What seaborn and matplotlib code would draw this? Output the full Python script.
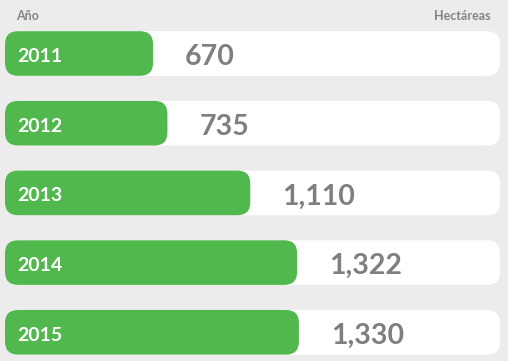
import matplotlib
matplotlib.use('Agg')
import matplotlib.pyplot as plt
import seaborn as sns
import pandas as pd
from matplotlib.patches import FancyBboxPatch
from matplotlib.transforms import IdentityTransform

# data
years = ['2011', '2012', '2013', '2014', '2015']
hectares = [670, 735, 1110, 1322, 1330]
header_left = 'Año'
header_right = 'Hectáreas'
track_max = 2240  # full length of the white track, in hectares

bg_color = '#ececec'
green = '#50b84c'
gray = '#7f7f7f'

sns.set_theme(style='white')
plt.rcParams['font.family'] = ['Lato', 'DejaVu Sans']

df = pd.DataFrame({'year': years, 'hectares': hectares})
df['track'] = track_max

fig = plt.figure(figsize=(5.08, 3.61), dpi=100, facecolor=bg_color)
ax = fig.add_axes([5 / 508, 0, 495 / 508, 342.35 / 361])
ax.set_facecolor(bg_color)

sns.barplot(data=df, y='year', x='track', color='white', width=0.64,
            saturation=1, ax=ax)
sns.barplot(data=df, y='year', x='hectares', color=green, width=0.64,
            saturation=1, ax=ax)
ax.set_xlim(0, track_max)
ax.set_ylim(4.412, -0.5)
ax.axis('off')

# swap the square bars for rounded ones (drawn in pixel space)
fig.canvas.draw()
n = len(years)
for k, p in enumerate(list(ax.patches)):
    bb = p.get_window_extent()
    p.set_visible(False)
    rounded = FancyBboxPatch((bb.x0, bb.y0), bb.width, bb.height,
                             boxstyle='round,pad=0,rounding_size=13',
                             transform=IdentityTransform(), clip_on=False,
                             facecolor=p.get_facecolor(), edgecolor='none',
                             zorder=1 if k < n else 2)
    ax.add_patch(rounded)

for i, (yr, v) in enumerate(zip(years, hectares)):
    ax.annotate(yr, xy=(0, i), xytext=(8.6, -6.1), textcoords='offset points',
                color='white', fontsize=14, fontweight='bold',
                va='baseline', ha='left', zorder=3)
    ax.annotate(f'{v:,}', xy=(v, i), xytext=(23, -8.3),
                textcoords='offset points', color=gray, fontsize=20.5,
                fontweight='bold', va='baseline', ha='left', zorder=3)

fig.text(16 / 508, 1 - 20 / 361, header_left, color='#858585', fontsize=9,
         fontweight='bold', va='baseline', ha='left')
fig.text(491 / 508, 1 - 20 / 361, header_right, color='#858585', fontsize=9,
         fontweight='bold', va='baseline', ha='right')

fig.savefig('out.png', dpi=100, facecolor=fig.get_facecolor())
